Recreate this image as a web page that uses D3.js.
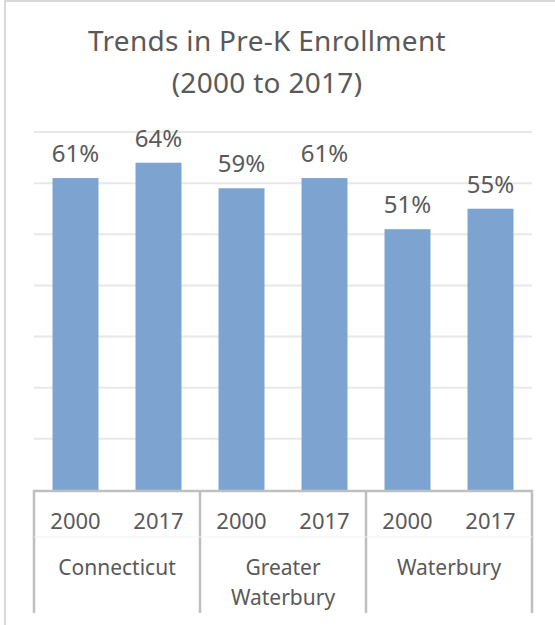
<!DOCTYPE html>
<html>
<head>
<meta charset="utf-8">
<script src="https://cdn.jsdelivr.net/npm/d3@7/dist/d3.min.js"></script>
<style>
  html, body { margin: 0; padding: 0; background: #fff; }
  svg { display: block; }
  text { font-family: "Noto Sans", "Open Sans", sans-serif; fill: #595959; }
</style>
</head>
<body>
<svg id="chart" width="555" height="625"></svg>
<script>
// Pre-K enrollment share by area and year
const groups = ["Connecticut", "Greater Waterbury", "Waterbury"];
const groupLines = [["Connecticut"], ["Greater", "Waterbury"], ["Waterbury"]];
const years = ["2000", "2017"];
const values = [0.61, 0.64, 0.59, 0.61, 0.51, 0.55];
const yTicks = [0, 0.1, 0.2, 0.3, 0.4, 0.5, 0.6, 0.7];
const titleLines = ["Trends in Pre-K Enrollment", "(2000 to 2017)"];

const svg = d3.select("#chart");

const plot = { left: 34, right: 532, top: 132, bottom: 490 };

// One entry per bar: group index + year
const bars = [];
groups.forEach((g, gi) => years.forEach((yr, yi) => {
  bars.push({ key: g + "|" + yr, group: gi, year: yr, value: values[gi * years.length + yi] });
}));

const x = d3.scaleBand()
  .domain(bars.map(d => d.key))
  .range([plot.left, plot.right])
  .paddingInner(0.446)
  .paddingOuter(0.223);

const y = d3.scaleLinear()
  .domain([0, 0.7])
  .range([plot.bottom, plot.top]);

// Frame edges
svg.append("line").attr("x1", 5).attr("x2", 5).attr("y1", 0).attr("y2", 625)
  .attr("stroke", "#d9d9d9").attr("stroke-width", 2);
svg.append("line").attr("x1", 5).attr("x2", 555).attr("y1", 1).attr("y2", 1)
  .attr("stroke", "#d9d9d9").attr("stroke-width", 2);

// Title
svg.append("g").selectAll("text").data(titleLines).join("text")
  .attr("x", 267)
  .attr("y", (d, i) => 51 + i * 42)
  .attr("text-anchor", "middle")
  .attr("font-size", 28)
  .attr("letter-spacing", 0.3)
  .text(d => d);

// Horizontal gridlines
svg.append("g").selectAll("line").data(yTicks.slice(1)).join("line")
  .attr("x1", plot.left).attr("x2", plot.right)
  .attr("y1", d => y(d)).attr("y2", d => y(d))
  .attr("stroke", "#e8e8e8").attr("stroke-width", 2);

// Bars
svg.append("g").selectAll("rect").data(bars).join("rect")
  .attr("x", d => x(d.key))
  .attr("width", x.bandwidth())
  .attr("y", d => y(d.value))
  .attr("height", d => y(0) - y(d.value))
  .attr("fill", "#7da4d1");

// Value labels
svg.append("g").selectAll("text").data(bars).join("text")
  .attr("x", d => x(d.key) + x.bandwidth() / 2)
  .attr("y", d => y(d.value) - 16)
  .attr("text-anchor", "middle")
  .attr("font-size", 24)
  .text(d => d3.format(".0%")(d.value));

// Category axis: baseline, group separators, faint level divider
const step = x.step();
const groupEdges = d3.range(groups.length + 1).map(i => plot.left + i * step * years.length);

svg.append("line").attr("x1", plot.left - 1).attr("x2", plot.right + 1)
  .attr("y1", plot.bottom + 1).attr("y2", plot.bottom + 1)
  .attr("stroke", "#bfbfbf").attr("stroke-width", 2.5);

svg.append("g").selectAll("line").data(groupEdges).join("line")
  .attr("x1", d => d).attr("x2", d => d)
  .attr("y1", plot.bottom).attr("y2", 613)
  .attr("stroke", "#bfbfbf").attr("stroke-width", 2.5);

svg.append("line").attr("x1", plot.left).attr("x2", plot.right)
  .attr("y1", 537).attr("y2", 537)
  .attr("stroke", "#f3f3f3").attr("stroke-width", 1);

// Year labels
svg.append("g").selectAll("text").data(bars).join("text")
  .attr("x", d => x(d.key) + x.bandwidth() / 2)
  .attr("y", 529)
  .attr("text-anchor", "middle")
  .attr("font-size", 22)
  .text(d => d.year);

// Group labels (wrapped)
const gl = svg.append("g").selectAll("text").data(groupLines).join("text")
  .attr("text-anchor", "middle")
  .attr("font-size", 21)
  .attr("transform", (d, i) => `translate(${(groupEdges[i] + groupEdges[i + 1]) / 2},0)`);
gl.selectAll("tspan").data(d => d).join("tspan")
  .attr("x", 0)
  .attr("y", (d, i) => 575 + i * 30)
  .text(d => d);
</script>
</body>
</html>
